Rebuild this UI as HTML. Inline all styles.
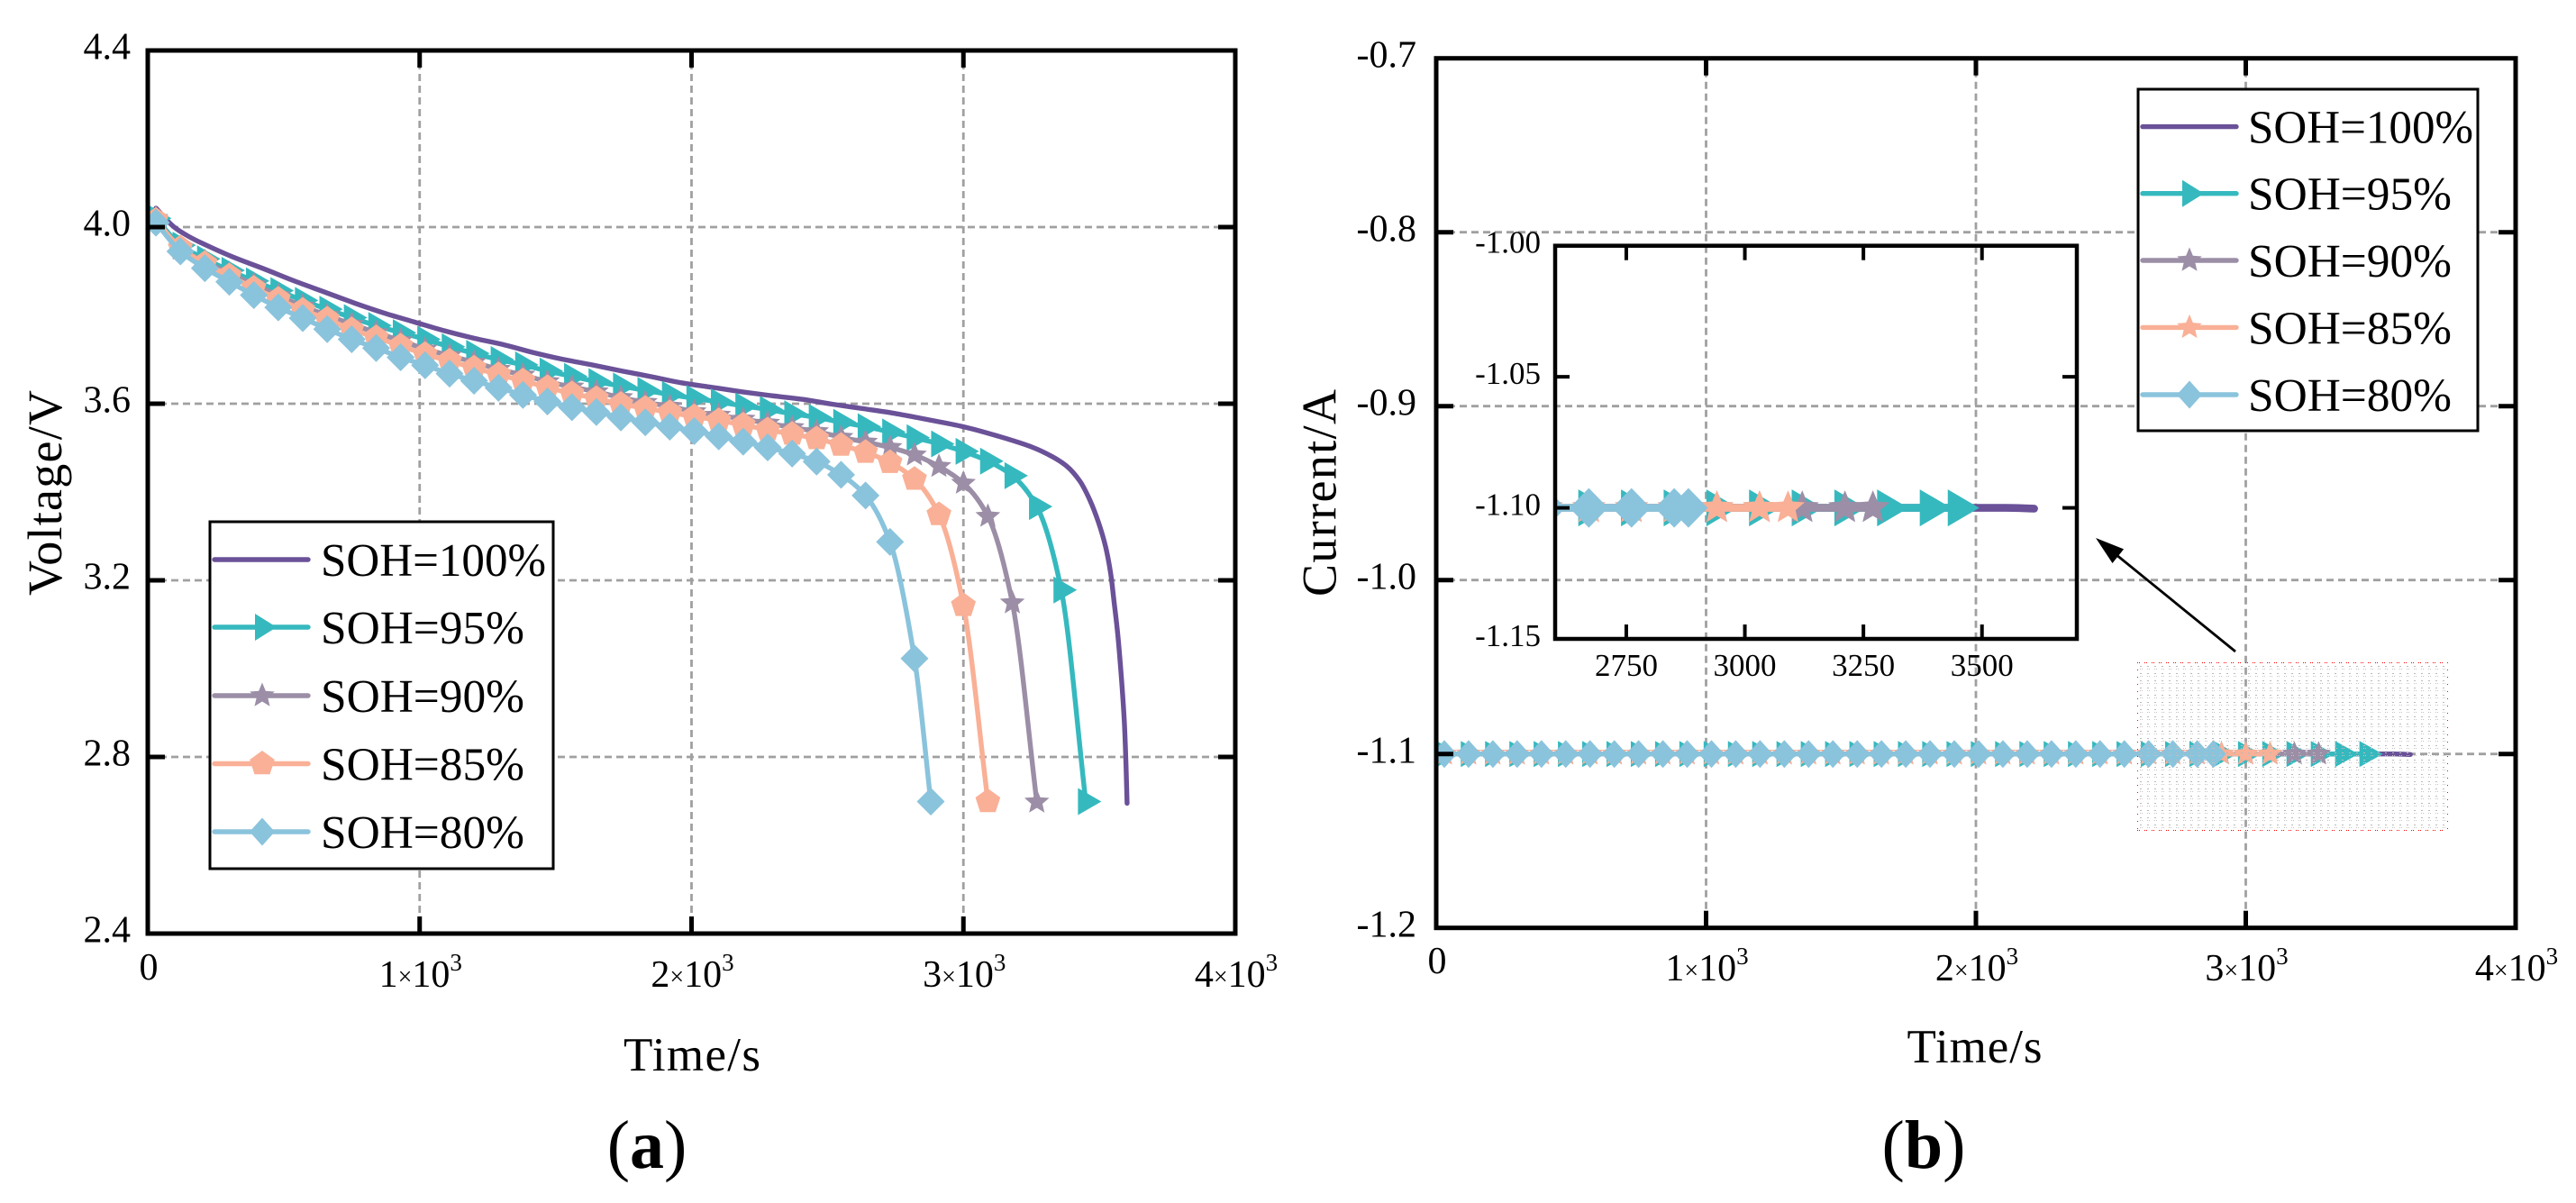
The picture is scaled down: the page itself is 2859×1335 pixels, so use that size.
<!DOCTYPE html>
<html lang="en">
<head>
<meta charset="utf-8">
<title>Voltage and current versus time for battery SOH levels</title>
<style>
html,body{margin:0;padding:0;background:#fff;width:2859px;height:1335px;overflow:hidden}
svg{display:block;font-family:"Liberation Serif","DejaVu Serif",serif;fill:#000}
</style>
</head>
<body>
<svg id="fig" xmlns="http://www.w3.org/2000/svg" width="2859" height="1335" viewBox="0 0 2859 1335">
  <defs>
    <clipPath id="clipA"><rect x="164" y="56" width="1207" height="980"/></clipPath>
    <clipPath id="clipB"><rect x="1594" y="64.7" width="1198" height="965"/></clipPath>
    <clipPath id="clipI"><rect x="1726" y="272.7" width="579" height="436.3"/></clipPath>
    <pattern id="mesh" patternUnits="userSpaceOnUse" x="2372" y="736" width="8" height="8">
      <rect x="3" y="3" width="2" height="1" fill="#b9b9b9"/>
      <rect x="3" y="6" width="1" height="1" fill="#c4c4c4"/>
      <rect x="5" y="6" width="1" height="1" fill="#c4c4c4"/>
    </pattern>
  </defs>
  <rect x="0" y="0" width="2859" height="1335" fill="#fff"/>
  <g id="panelA"></g>
  <g id="panelB"></g>
  <g id="mesh-layer" shape-rendering="crispEdges">
    <rect x="2372" y="736" width="344" height="185" fill="url(#mesh)"/>
    <line x1="2372" y1="735.5" x2="2716" y2="735.5" stroke="#f00" stroke-width="1" stroke-dasharray="1 1 1 5"/>
    <line x1="2372" y1="921.5" x2="2716" y2="921.5" stroke="#f00" stroke-width="1" stroke-dasharray="1 1 1 5"/>
    <line x1="2372.5" y1="735" x2="2372.5" y2="922" stroke="#f00" stroke-width="1" stroke-dasharray="1 7"/>
    <line x1="2716.5" y1="735" x2="2716.5" y2="922" stroke="#f00" stroke-width="1" stroke-dasharray="1 7"/>
  </g>
  <g>
    <line x1="2481" y1="723" x2="2348" y2="615" stroke="#000" stroke-width="2.8"/>
    <polygon points="2326,597 2344.5,625 2357.1,609.4" fill="#000"/>
  </g>
  <text x="718" y="1296" font-size="76" text-anchor="middle">(<tspan font-weight="bold">a</tspan>)</text>
  <text x="2135" y="1296" font-size="76" text-anchor="middle">(<tspan font-weight="bold">b</tspan>)</text>
</svg>
<script>
// ---------- Panel (a) data: voltage vs time ----------
const times100 = [30,97,150,208,318,429,539,650,760,871,981,1092,1202,1313,1423,1523,1634,1744,1854,1965,2076,2185,2297,2407,2517,2628,2738,2860,2999,3125,3251,3327,3379,3428,3465,3497,3523,3542,3554,3567,3581,3592,3598,3602];
const volts100 = [4.043,4.000,3.979,3.961,3.931,3.905,3.878,3.853,3.828,3.805,3.785,3.765,3.748,3.733,3.715,3.701,3.688,3.674,3.661,3.647,3.637,3.627,3.618,3.610,3.599,3.589,3.579,3.565,3.548,3.527,3.502,3.480,3.459,3.425,3.382,3.331,3.276,3.214,3.152,3.082,2.980,2.878,2.783,2.695];
const times95 = [30,120,210,300,390,480,570,660,750,840,930,1020,1110,1200,1290,1380,1470,1560,1650,1740,1830,1920,2010,2100,2190,2280,2370,2460,2550,2640,2730,2820,2910,3000,3090,3180,3270,3360,3450];
const volts95 = [4.02,3.959,3.928,3.902,3.878,3.856,3.834,3.814,3.795,3.777,3.761,3.746,3.729,3.714,3.700,3.688,3.674,3.662,3.650,3.640,3.630,3.621,3.612,3.604,3.595,3.587,3.577,3.569,3.558,3.548,3.536,3.523,3.509,3.492,3.470,3.437,3.367,3.178,2.699];
const times90 = [30,120,210,300,390,480,570,660,750,840,930,1020,1110,1200,1290,1380,1470,1560,1650,1740,1830,1920,2010,2100,2190,2280,2370,2460,2550,2640,2730,2820,2910,3000,3090,3180,3270];
const volts90 = [4.02,3.950,3.922,3.895,3.870,3.845,3.821,3.800,3.780,3.761,3.743,3.724,3.709,3.694,3.678,3.665,3.650,3.638,3.627,3.614,3.603,3.594,3.582,3.574,3.565,3.556,3.546,3.537,3.524,3.513,3.501,3.484,3.458,3.420,3.345,3.149,2.698];
const times85 = [30,120,210,300,390,480,570,660,750,840,930,1020,1110,1200,1290,1380,1470,1560,1650,1740,1830,1920,2010,2100,2190,2280,2370,2460,2550,2640,2730,2820,2910,3000,3090];
const volts85 = [4.016,3.953,3.918,3.890,3.862,3.837,3.812,3.792,3.768,3.750,3.731,3.712,3.697,3.681,3.666,3.652,3.637,3.623,3.612,3.599,3.590,3.580,3.571,3.562,3.552,3.541,3.531,3.521,3.506,3.490,3.467,3.429,3.349,3.143,2.699];
const times80 = [30,120,210,300,390,480,570,660,750,840,930,1020,1110,1200,1290,1380,1470,1560,1650,1740,1830,1920,2010,2100,2190,2280,2370,2460,2550,2640,2730,2820,2880];
const volts80 = [4.010,3.945,3.907,3.876,3.846,3.818,3.794,3.769,3.746,3.726,3.705,3.687,3.668,3.652,3.636,3.620,3.605,3.592,3.581,3.569,3.558,3.548,3.538,3.526,3.514,3.501,3.487,3.469,3.439,3.392,3.287,3.023,2.699];

// ---------- Panel (b) data: current vs time ----------
const currentTimes100 = [30,1000,2000,3000,3450,3550,3610];
const currents100 = [-1.1,-1.1,-1.1,-1.1,-1.1,-1.1,-1.1003];
const currents95 = [-1.1,-1.1,-1.1,-1.1,-1.1,-1.1,-1.1,-1.1,-1.1,-1.1,-1.1,-1.1,-1.1,-1.1,-1.1,-1.1,-1.1,-1.1,-1.1,-1.1,-1.1,-1.1,-1.1,-1.1,-1.1,-1.1,-1.1,-1.1,-1.1,-1.1,-1.1,-1.1,-1.1,-1.1,-1.1,-1.1,-1.1,-1.1,-1.1];
const currents90 = [-1.1,-1.1,-1.1,-1.1,-1.1,-1.1,-1.1,-1.1,-1.1,-1.1,-1.1,-1.1,-1.1,-1.1,-1.1,-1.1,-1.1,-1.1,-1.1,-1.1,-1.1,-1.1,-1.1,-1.1,-1.1,-1.1,-1.1,-1.1,-1.1,-1.1,-1.1,-1.1,-1.1,-1.1,-1.1,-1.1,-1.1];
const currents85 = [-1.1,-1.1,-1.1,-1.1,-1.1,-1.1,-1.1,-1.1,-1.1,-1.1,-1.1,-1.1,-1.1,-1.1,-1.1,-1.1,-1.1,-1.1,-1.1,-1.1,-1.1,-1.1,-1.1,-1.1,-1.1,-1.1,-1.1,-1.1,-1.1,-1.1,-1.1,-1.1,-1.1,-1.1,-1.1];
const currents80 = [-1.1,-1.1,-1.1,-1.1,-1.1,-1.1,-1.1,-1.1,-1.1,-1.1,-1.1,-1.1,-1.1,-1.1,-1.1,-1.1,-1.1,-1.1,-1.1,-1.1,-1.1,-1.1,-1.1,-1.1,-1.1,-1.1,-1.1,-1.1,-1.1,-1.1,-1.1,-1.1,-1.1];

// ---------- Inset data ----------
const insetTimes100 = [2581,3000,3450,3550,3610];
const insetCurrents100 = [-1.1,-1.1,-1.1,-1.1,-1.1003];
const insetTimes95 = [2581,2671,2761,2851,2941,3031,3121,3211,3301,3391,3450];
const insetCurrents95 = [-1.1,-1.1,-1.1,-1.1,-1.1,-1.1,-1.1,-1.1,-1.1,-1.1,-1.1];
const insetTimes90 = [2581,2671,2761,2851,2941,3031,3121,3211,3270];
const insetCurrents90 = [-1.1,-1.1,-1.1,-1.1,-1.1,-1.1,-1.1,-1.1,-1.1];
const insetTimes85 = [2581,2671,2761,2851,2941,3031,3091];
const insetCurrents85 = [-1.1,-1.1,-1.1,-1.1,-1.1,-1.1,-1.1];
const insetTimes80 = [2581,2671,2761,2851,2881];
const insetCurrents80 = [-1.1,-1.1,-1.1,-1.1,-1.1];

// ---------- Ticks ----------
const timeTicks = [0,1000,2000,3000,4000];
const timeTickMantissas = ['0','1','2','3','4'];
const voltageTicks = [4.4,4.0,3.6,3.2,2.8,2.4];
const voltageTickLabels = ['4.4','4.0','3.6','3.2','2.8','2.4'];
const currentTicks = [-0.7,-0.8,-0.9,-1.0,-1.1,-1.2];
const currentTickLabels = ['-0.7','-0.8','-0.9','-1.0','-1.1','-1.2'];
const insetTimeTicks = [2750,3000,3250,3500];
const insetTimeTickLabels = ['2750','3000','3250','3500'];
const insetCurrentTicks = [-1.00,-1.05,-1.10,-1.15];
const insetCurrentTickLabels = ['-1.00','-1.05','-1.10','-1.15'];
const seriesLabels = ['SOH=100%','SOH=95%','SOH=90%','SOH=85%','SOH=80%'];

// ---------- Axis functions ----------
const xA = t => 164 + t * 0.30175;
const yA = v => 56 + (4.4 - v) * 490;
const xB = t => 1594 + t * 0.2995;
const yB = c => 64.7 + (-0.7 - c) * 1930;
const xI = t => 1726 + (t - 2600) * 0.52636;
const yI = c => 272.7 + (-1.0 - c) * 2908.7;

// ---------- Styles ----------
const PURPLE = '#6a5198', TEAL = '#35b9be', GRAY = '#9b8ea6', ORANGE = '#f9b096', BLUE = '#8ac3dc', GRID = '#a0a0a0';
const NS = 'http://www.w3.org/2000/svg';
const LINE_W = 5.4, INSET_LINE_W = 8.6;

function mk(tag, parent, attrs) {
  const el = document.createElementNS(NS, tag);
  for (const k in attrs) el.setAttribute(k, attrs[k]);
  parent.appendChild(el);
  return el;
}

function shapePoints(shape, cx, cy, size) {
  const pts = [];
  if (shape === 'diamond') {
    pts.push([cx, cy - size.h], [cx + size.w, cy], [cx, cy + size.h], [cx - size.w, cy]);
  } else if (shape === 'triangle') {
    pts.push([cx - size.w / 3, cy - size.h / 2], [cx + 2 * size.w / 3, cy], [cx - size.w / 3, cy + size.h / 2]);
  } else if (shape === 'pentagon') {
    for (let i = 0; i < 5; i++) {
      const a = -Math.PI / 2 + i * 2 * Math.PI / 5;
      pts.push([cx + size.r * Math.cos(a), cy + size.r * Math.sin(a)]);
    }
  } else {
    for (let i = 0; i < 10; i++) {
      const a = -Math.PI / 2 + i * Math.PI / 5;
      const r = i % 2 ? size.r * 0.45 : size.r;
      pts.push([cx + r * Math.cos(a), cy + r * Math.sin(a)]);
    }
  }
  return pts.map(p => p[0].toFixed(2) + ',' + p[1].toFixed(2)).join(' ');
}

// Monotone cubic path through screen points
function smoothPath(px, py) {
  const n = px.length;
  if (n < 3) return 'M' + px[0] + ' ' + py[0] + 'L' + px[n - 1] + ' ' + py[n - 1];
  const d = [], m = [];
  for (let i = 0; i < n - 1; i++) d.push((py[i + 1] - py[i]) / Math.max(px[i + 1] - px[i], 1e-6));
  m[0] = d[0];
  m[n - 1] = d[n - 2];
  for (let i = 1; i < n - 1; i++) {
    m[i] = d[i - 1] * d[i] <= 0 ? 0 : 2 * d[i - 1] * d[i] / (d[i - 1] + d[i]);
  }
  let s = 'M' + px[0].toFixed(2) + ' ' + py[0].toFixed(2);
  for (let i = 0; i < n - 1; i++) {
    const h = (px[i + 1] - px[i]) / 3;
    s += 'C' + (px[i] + h).toFixed(2) + ' ' + (py[i] + m[i] * h).toFixed(2) + ' ' +
         (px[i + 1] - h).toFixed(2) + ' ' + (py[i + 1] - m[i + 1] * h).toFixed(2) + ' ' +
         px[i + 1].toFixed(2) + ' ' + py[i + 1].toFixed(2);
  }
  return s;
}

function drawSeries(parent, prefix, key, color, width, times, values, xf, yf, markerTimes, shape, size) {
  const g = mk('g', parent, {});
  
  
  const line = mk('path', g, {
    d: smoothPath(times.map(xf), values.map(yf)),
    fill: 'none', stroke: color, 'stroke-width': width, 'stroke-linejoin': 'round', 'stroke-linecap': 'round'
  });
  
  
  if (shape) {
    markerTimes.forEach(function (i) {
      const mark = mk('polygon', g, { points: shapePoints(shape, xf(times[i]), yf(values[i]), size), fill: color });
      
      
    });
  }
}

function allIndexes(arr) { return arr.map(function (_, i) { return i; }); }

function drawGrid(parent, prefix, frame, xf, yf, gridXs, gridYs) {
  const grid = mk('g', parent, { stroke: GRID, 'stroke-width': 2.8, 'stroke-dasharray': '8 5', fill: 'none' });
  
  
  gridXs.forEach(function (t) {
    const gl = mk('line', grid, { x1: xf(t), x2: xf(t), y1: frame.top, y2: frame.bottom });
    
    
  });
  gridYs.forEach(function (v) {
    const gl = mk('line', grid, { y1: yf(v), y2: yf(v), x1: frame.left, x2: frame.right });
    
    
  });
}

function drawSpinesAndTicks(parent, prefix, frame, xTicks, yTicks, xf, yf, spineW, tickLen, tickW) {
  const g = mk('g', parent, { stroke: '#000' });
  
  
  const box = mk('rect', g, {
    x: frame.left, y: frame.top, width: frame.right - frame.left, height: frame.bottom - frame.top,
    fill: 'none', 'stroke-width': spineW
  });
  
  
  xTicks.forEach(function (t) {
    const x = xf(t);
    if (x <= frame.left + 1 || x >= frame.right - 1) return;
    const a = mk('line', g, { x1: x, x2: x, y1: frame.bottom, y2: frame.bottom - tickLen, 'stroke-width': tickW });
    
    
    const b = mk('line', g, { x1: x, x2: x, y1: frame.top, y2: frame.top + tickLen, 'stroke-width': tickW });
    
    
  });
  yTicks.forEach(function (v) {
    const y = yf(v);
    if (y <= frame.top + 1 || y >= frame.bottom - 1) return;
    const a = mk('line', g, { x1: frame.left, x2: frame.left + tickLen, y1: y, y2: y, 'stroke-width': tickW });
    
    
    const b = mk('line', g, { x1: frame.right, x2: frame.right - tickLen, y1: y, y2: y, 'stroke-width': tickW });
    
    
  });
}

function drawYLabels(parent, prefix, ticks, labels, yf, rightX, dy, size) {
  ticks.forEach(function (v, i) {
    const t = mk('text', parent, { x: rightX, y: yf(v) + dy, 'font-size': size, 'text-anchor': 'end' });
    t.textContent = labels[i];
    
    
  });
}

function drawTimeLabels(parent, prefix, xf, baseline, zeroBaseline) {
  timeTicks.forEach(function (t, i) {
    const el = mk('text', parent, { x: xf(t) + 1, y: i === 0 ? zeroBaseline : baseline, 'font-size': 42, 'text-anchor': 'middle' });
    
    
    if (i === 0) {
      el.textContent = timeTickMantissas[i];
    } else {
      const a = mk('tspan', el, {}); a.textContent = timeTickMantissas[i];
      const b = mk('tspan', el, { 'font-size': 28, dy: -2 }); b.textContent = '×';
      const c = mk('tspan', el, { dy: 2 }); c.textContent = '10';
      const d = mk('tspan', el, { 'font-size': 27, dy: -18 }); d.textContent = '3';
    }
  });
}

function drawLegend(parent, prefix, box, rows, lineX1, lineX2, textX, cx, shapes, colors) {
  const g = mk('g', parent, {});
  
  
  const r = mk('rect', g, { x: box.x, y: box.y, width: box.w, height: box.h, fill: '#fff', stroke: '#000', 'stroke-width': 3 });
  
  
  seriesLabels.forEach(function (label, i) {
    const entry = mk('g', g, {});
    
    
    const l = mk('line', entry, { x1: lineX1, x2: lineX2, y1: rows[i], y2: rows[i], stroke: colors[i], 'stroke-width': 5.4, 'stroke-linecap': 'round' });
    
    
    if (shapes[i]) {
      const m = mk('polygon', entry, { points: shapePoints(shapes[i].shape, cx, rows[i], shapes[i].size), fill: colors[i] });
      
      
    }
    const t = mk('text', entry, { x: textX, y: rows[i] + 18, 'font-size': 52, textLength: i === 0 ? 250 : 226, lengthAdjust: 'spacingAndGlyphs' });
    t.textContent = label;
    
    
  });
}

const colors = [PURPLE, TEAL, GRAY, ORANGE, BLUE];

// ---------- Panel A ----------
const A = document.getElementById('panelA');
const frameA = { left: 164, right: 1371, top: 56, bottom: 1036 };
drawGrid(A, 'voltage', frameA, xA, yA, [1000, 2000, 3000], [4.0, 3.6, 3.2, 2.8]);
const seriesA = mk('g', A, { 'clip-path': 'url(#clipA)' });


drawSeries(seriesA, 'voltage', 'soh-100', PURPLE, LINE_W, times100, volts100, xA, yA, [], null, null);
drawSeries(seriesA, 'voltage', 'soh-95', TEAL, LINE_W, times95, volts95, xA, yA, allIndexes(times95), 'triangle', { w: 26, h: 30 });
drawSeries(seriesA, 'voltage', 'soh-90', GRAY, LINE_W, times90, volts90, xA, yA, allIndexes(times90), 'star', { r: 14.5 });
drawSeries(seriesA, 'voltage', 'soh-85', ORANGE, LINE_W, times85, volts85, xA, yA, allIndexes(times85), 'pentagon', { r: 14.5 });
drawSeries(seriesA, 'voltage', 'soh-80', BLUE, LINE_W, times80, volts80, xA, yA, allIndexes(times80), 'diamond', { w: 15.5, h: 15.5 });
drawSpinesAndTicks(A, 'voltage', frameA, timeTicks, voltageTicks, xA, yA, 5, 19, 5);
drawYLabels(A, 'voltage', voltageTicks, voltageTickLabels, yA, 145, 9.5, 42);
drawTimeLabels(A, 'voltage', xA, 1095, 1087);
drawLegend(A, 'voltage', { x: 233, y: 579, w: 381, h: 385 }, [621, 696, 772, 847.5, 923], 238, 342, 356, 291,
  [null, { shape: 'triangle', size: { w: 24, h: 30 } }, { shape: 'star', size: { r: 14.5 } }, { shape: 'pentagon', size: { r: 14.5 } }, { shape: 'diamond', size: { w: 14, h: 15.5 } }], colors);
const titleXA = mk('text', A, { x: 768, y: 1188, 'font-size': 53, 'text-anchor': 'middle', textLength: 152, lengthAdjust: 'spacing' });
titleXA.textContent = 'Time/s';


const titleYA = mk('text', A, { x: 0, y: 0, 'font-size': 54, 'text-anchor': 'middle', textLength: 228, lengthAdjust: 'spacing', transform: 'translate(68 547) rotate(-90)' });
titleYA.textContent = 'Voltage/V';



// ---------- Panel B ----------
const B = document.getElementById('panelB');
const frameB = { left: 1594, right: 2792, top: 64.7, bottom: 1029.7 };
drawGrid(B, 'current', frameB, xB, yB, [1000, 2000, 3000], [-0.8, -0.9, -1.0, -1.1]);
const seriesB = mk('g', B, { 'clip-path': 'url(#clipB)' });


drawSeries(seriesB, 'current', 'soh-100', PURPLE, LINE_W, currentTimes100, currents100, xB, yB, [], null, null);
drawSeries(seriesB, 'current', 'soh-95', TEAL, LINE_W, times95, currents95, xB, yB, allIndexes(times95), 'triangle', { w: 26, h: 29 });
drawSeries(seriesB, 'current', 'soh-90', GRAY, LINE_W, times90, currents90, xB, yB, allIndexes(times90), 'star', { r: 14.5 });
drawSeries(seriesB, 'current', 'soh-85', ORANGE, LINE_W, times85, currents85, xB, yB, allIndexes(times85), 'star', { r: 14.5 });
drawSeries(seriesB, 'current', 'soh-80', BLUE, LINE_W, times80, currents80, xB, yB, allIndexes(times80), 'diamond', { w: 14, h: 15.5 });
drawSpinesAndTicks(B, 'current', frameB, timeTicks, currentTicks, xB, yB, 5, 19, 5);
drawYLabels(B, 'current', currentTicks, currentTickLabels, yB, 1572, 10, 42);
drawTimeLabels(B, 'current', xB, 1088, 1080);
const titleXB = mk('text', B, { x: 2191.5, y: 1179, 'font-size': 53, 'text-anchor': 'middle', textLength: 150, lengthAdjust: 'spacing' });
titleXB.textContent = 'Time/s';


const titleYB = mk('text', B, { x: 0, y: 0, 'font-size': 54, 'text-anchor': 'middle', textLength: 230, lengthAdjust: 'spacing', transform: 'translate(1482.5 547) rotate(-90)' });
titleYB.textContent = 'Current/A';



// ---------- Inset ----------
const I = mk('g', B, {});


const frameI = { left: 1726, right: 2305, top: 272.7, bottom: 709 };
const seriesI = mk('g', I, { 'clip-path': 'url(#clipI)' });


drawSeries(seriesI, 'inset', 'soh-100', PURPLE, INSET_LINE_W, insetTimes100, insetCurrents100, xI, yI, [], null, null);
drawSeries(seriesI, 'inset', 'soh-95', TEAL, INSET_LINE_W, insetTimes95, insetCurrents95, xI, yI, allIndexes(insetTimes95), 'triangle', { w: 35, h: 41 });
drawSeries(seriesI, 'inset', 'soh-90', GRAY, INSET_LINE_W, insetTimes90, insetCurrents90, xI, yI, allIndexes(insetTimes90), 'star', { r: 19.5 });
drawSeries(seriesI, 'inset', 'soh-85', ORANGE, INSET_LINE_W, insetTimes85, insetCurrents85, xI, yI, allIndexes(insetTimes85), 'star', { r: 19.5 });
drawSeries(seriesI, 'inset', 'soh-80', BLUE, INSET_LINE_W, insetTimes80, insetCurrents80, xI, yI, allIndexes(insetTimes80), 'diamond', { w: 21.5, h: 22 });
drawSpinesAndTicks(I, 'inset', frameI, insetTimeTicks, insetCurrentTicks, xI, yI, 4.5, 16, 4);
drawYLabels(I, 'inset', insetCurrentTicks, insetCurrentTickLabels, yI, 1710, 8, 35);
insetTimeTicks.forEach(function (t, i) {
  const el = mk('text', I, { x: xI(t), y: 750, 'font-size': 35, 'text-anchor': 'middle' });
  el.textContent = insetTimeTickLabels[i];
  
  
});

// Legend for panel B is drawn last so it sits above the grid
drawLegend(B, 'current', { x: 2373, y: 99, w: 377, h: 379 }, [140.6, 214.7, 289, 363.4, 438], 2378, 2482, 2495, 2430,
  [null, { shape: 'triangle', size: { w: 24, h: 30 } }, { shape: 'star', size: { r: 14.5 } }, { shape: 'star', size: { r: 14.5 } }, { shape: 'diamond', size: { w: 14, h: 15.5 } }], colors);
</script>
</body>
</html>
